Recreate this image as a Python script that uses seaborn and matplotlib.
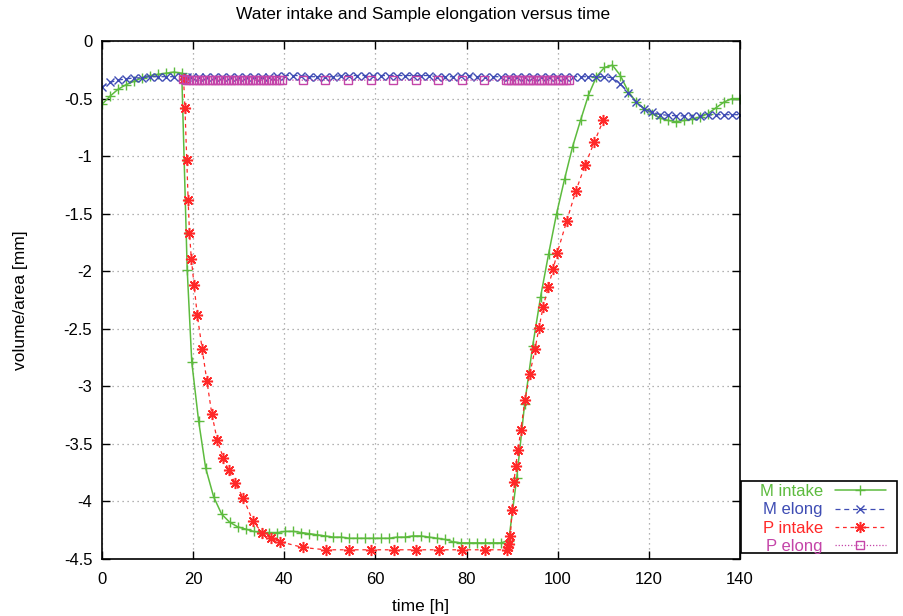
import matplotlib
matplotlib.use("Agg")
import matplotlib.pyplot as plt
from matplotlib.patches import Rectangle
import seaborn as sns
import pandas as pd

# ---------------- data ----------------
t_m = [0, 1.75, 3.5, 5.25, 7, 8.75, 10.5, 12.25, 14, 15.75, 17.5, 18.7, 19.7, 21.2,
       22.75, 24.5, 26.25, 28, 29.75, 31.5, 33.25, 35, 36.75, 38.5, 40.25, 42, 43.75,
       45.5, 47.25, 49, 50.75, 52.5, 54.25, 56, 57.75, 59.5, 61.25, 63, 64.75, 66.5,
       68.25, 70, 71.75, 73.5, 75.25, 77, 78.75, 80.5, 82.25, 84, 85.75, 87.5, 89.25,
       91, 92.75, 94.5, 96.25, 98, 99.75, 101.5, 103.25, 105, 106.75, 108.5, 110.25,
       112, 113.75, 115.5, 117.25, 119, 120.75, 122.5, 124.25, 126, 127.75, 129.5,
       131.25, 133, 134.75, 136.5, 138.25, 140]

m_intake = [-0.55, -0.48, -0.42, -0.38, -0.35, -0.32, -0.30, -0.29, -0.28, -0.27, -0.28,
            -1.99, -2.79, -3.30,
            -3.71, -3.96, -4.11, -4.18, -4.22, -4.24, -4.26, -4.27, -4.27, -4.27, -4.26,
            -4.26, -4.27, -4.28, -4.29, -4.30, -4.31, -4.31, -4.32, -4.32, -4.32, -4.32,
            -4.32, -4.32, -4.31, -4.31, -4.30, -4.30, -4.31, -4.32, -4.33, -4.35, -4.36,
            -4.36, -4.36, -4.36, -4.36, -4.36, -4.34,
            -3.80, -3.15, -2.65, -2.22, -1.85, -1.50, -1.20, -0.92, -0.69, -0.47, -0.31,
            -0.23, -0.21, -0.30, -0.44, -0.53, -0.59, -0.63, -0.67, -0.69, -0.70, -0.69,
            -0.68, -0.66, -0.63, -0.58, -0.53, -0.50, -0.50]

m_elong = [-0.40, -0.36, -0.34, -0.33, -0.32, -0.32, -0.31, -0.31, -0.31, -0.31, -0.31,
           -0.31, -0.31, -0.31,
           -0.31, -0.31, -0.31, -0.31, -0.31, -0.31, -0.31, -0.31, -0.31, -0.30, -0.30,
           -0.30, -0.30, -0.31, -0.31, -0.31, -0.31, -0.30, -0.30, -0.30, -0.30, -0.30,
           -0.30, -0.30, -0.30, -0.30, -0.30, -0.30, -0.30, -0.31, -0.31, -0.31, -0.30,
           -0.30, -0.31, -0.31, -0.31, -0.31, -0.31,
           -0.31, -0.31, -0.31, -0.31, -0.31, -0.31, -0.31, -0.31, -0.31, -0.31, -0.31,
           -0.31, -0.32, -0.37, -0.45, -0.53, -0.59, -0.62, -0.64, -0.645, -0.65, -0.65,
           -0.65, -0.65, -0.645, -0.64, -0.64, -0.64, -0.64]

t_pi = [17.9, 18.2, 18.6, 18.9, 19.2, 19.6, 20.2, 20.9, 22.0, 23.0, 24.1, 25.3, 26.6,
        27.8, 29.2, 31.0, 33.1, 35.1, 37.1, 39.1, 44.1, 49.1, 54.1, 59.1, 64.0, 69.0,
        74.0, 79.0, 84.0, 88.9, 89.1, 89.3, 89.6, 90.0, 90.4, 90.8, 91.3, 91.9, 92.8,
        93.9, 95.0, 95.9, 96.8, 97.9, 99.0, 99.9, 102.0, 104.0, 106.0, 108.0, 110.0]
p_intake = [-0.33, -0.58, -1.03, -1.38, -1.67, -1.89, -2.12, -2.38, -2.68, -2.95, -3.24,
            -3.47, -3.62, -3.73, -3.84, -3.97, -4.17, -4.27, -4.32, -4.35, -4.40, -4.42,
            -4.42, -4.42, -4.42, -4.42, -4.42, -4.42, -4.42, -4.42, -4.40, -4.37, -4.30,
            -4.07, -3.83, -3.69, -3.55, -3.38, -3.12, -2.89, -2.68, -2.49, -2.31, -2.14,
            -1.98, -1.84, -1.56, -1.30, -1.08, -0.88, -0.69]

t_pe = [17.8, 18.5, 19.2, 19.9, 20.6, 21.3, 22.0, 22.7, 23.4, 24.1, 24.8, 25.5, 26.2,
        26.9, 27.6, 28.3, 29.0, 29.7, 30.4, 31.1, 31.8, 32.5, 33.2, 33.9, 34.6, 35.3,
        36.0, 36.7, 37.4, 38.1, 38.8, 39.5, 44.1, 48.9, 54.0, 59.0, 63.9, 68.9, 73.8,
        78.9, 83.8, 88.6, 89.2, 89.8, 90.4, 91.0, 91.6, 92.2, 92.8, 93.4, 94.0, 94.6,
        95.2, 95.8, 96.4, 97.0, 97.6, 98.2, 98.8, 99.4, 100.0, 100.6, 101.2, 101.8, 102.4]
p_elong = [-0.33, -0.34, -0.34, -0.34, -0.34, -0.34, -0.34, -0.34, -0.34, -0.34, -0.34,
           -0.34, -0.34, -0.34, -0.34, -0.34, -0.34, -0.34, -0.34, -0.34, -0.34, -0.34,
           -0.34, -0.34, -0.34, -0.34, -0.34, -0.34, -0.34, -0.34, -0.34, -0.34, -0.34,
           -0.34, -0.34, -0.34, -0.34, -0.34, -0.34, -0.34, -0.34, -0.34, -0.34, -0.34,
           -0.34, -0.34, -0.34, -0.34, -0.34, -0.34, -0.34, -0.34, -0.34, -0.34, -0.34,
           -0.34, -0.34, -0.34, -0.34, -0.34, -0.34, -0.34, -0.34, -0.34, -0.34]

x_ticks = [0, 20, 40, 60, 80, 100, 120, 140]
y_ticks = [0, -0.5, -1, -1.5, -2, -2.5, -3, -3.5, -4, -4.5]
y_ticklabels = ["0", "-0.5", "-1", "-1.5", "-2", "-2.5", "-3", "-3.5", "-4", "-4.5"]

title = "Water intake and Sample elongation versus time"
xlabel = "time [h]"
ylabel = "volume/area [mm]"

# ---------------- style ----------------
sns.set_theme(style="white")
plt.rcParams["font.family"] = ["Liberation Sans", "DejaVu Sans"]

c_green = "#5dbb3e"
c_blue = "#3f4db4"
c_red = "#ff2828"
c_pink = "#c444a8"

fig = plt.figure(figsize=(9.04, 6.16), dpi=100)
ax = fig.add_axes([102 / 904, 1 - 559 / 616, (740 - 102) / 904, (559 - 41) / 616])

df_m = pd.DataFrame({"t": t_m, "intake": m_intake, "elong": m_elong})
df_pi = pd.DataFrame({"t": t_pi, "v": p_intake})
df_pe = pd.DataFrame({"t": t_pe, "v": p_elong})

sns.lineplot(data=df_m, x="t", y="intake", ax=ax, sort=False, estimator=None,
             color=c_green, linestyle="-", linewidth=1.1, marker="+", markersize=7,
             markeredgecolor=c_green, markeredgewidth=1.0, label="M intake", legend=False)
sns.lineplot(data=df_m, x="t", y="elong", ax=ax, sort=False, estimator=None,
             color=c_blue, linestyle=(0, (4, 3)), linewidth=0.9, marker="x", markersize=6,
             markeredgecolor=c_blue, markeredgewidth=1.0, label="M elong", legend=False)
sns.lineplot(data=df_pi, x="t", y="v", ax=ax, sort=False, estimator=None,
             color=c_red, linestyle=(0, (3, 3)), linewidth=0.9, marker=(8, 2, 0), markersize=8,
             markeredgecolor=c_red, markeredgewidth=1.1, label="P intake", legend=False)
sns.lineplot(data=df_pe, x="t", y="v", ax=ax, sort=False, estimator=None,
             color=c_pink, linestyle=(0, (1, 1.5)), linewidth=0.9, marker="s", markersize=5.5,
             markerfacecolor="none", markeredgecolor=c_pink, markeredgewidth=1.0,
             label="P elong", legend=False)

ax.set_xlim(0, 140)
ax.set_ylim(-4.5, 0)
ax.set_xticks(x_ticks)
ax.set_xticklabels([str(v) for v in x_ticks])
ax.set_yticks(y_ticks)
ax.set_yticklabels(y_ticklabels)
ax.grid(True, color="#9a9a9a", linestyle=(0, (1, 3)), linewidth=0.9)
for s in ax.spines.values():
    s.set_color("black")
    s.set_linewidth(1.2)
ax.tick_params(direction="in", length=6, width=1.0, color="black", top=True, right=True,
               bottom=True, left=True, labelsize=12, labelcolor="black")
ax.tick_params(axis="x", pad=9)
ax.tick_params(axis="y", pad=7)
ax.set_xlabel(xlabel, fontsize=12.5, color="black", labelpad=9)
ax.set_ylabel(ylabel, fontsize=12.5, color="black", labelpad=26)
fig.text(423 / 904, 1 - 15 / 616, title, ha="center", va="center", fontsize=12.5,
         color="black")

handles, labels = ax.get_legend_handles_labels()
leg = fig.legend(handles, labels, loc="center",
                 bbox_to_anchor=(823 / 904, 1 - 519 / 616),
                 bbox_transform=fig.transFigure, markerfirst=False, labelcolor="linecolor",
                 frameon=False, fontsize=12,
                 handlelength=3.1, handletextpad=0.7, labelspacing=0.2, borderpad=0.2,
                 borderaxespad=0)
fig.patches.append(Rectangle((741 / 904, 1 - 553 / 616), 156 / 904, 72 / 616,
                             transform=fig.transFigure, fill=False, edgecolor="black",
                             linewidth=1.2, figure=fig))

fig.savefig("out.png", dpi=100)
